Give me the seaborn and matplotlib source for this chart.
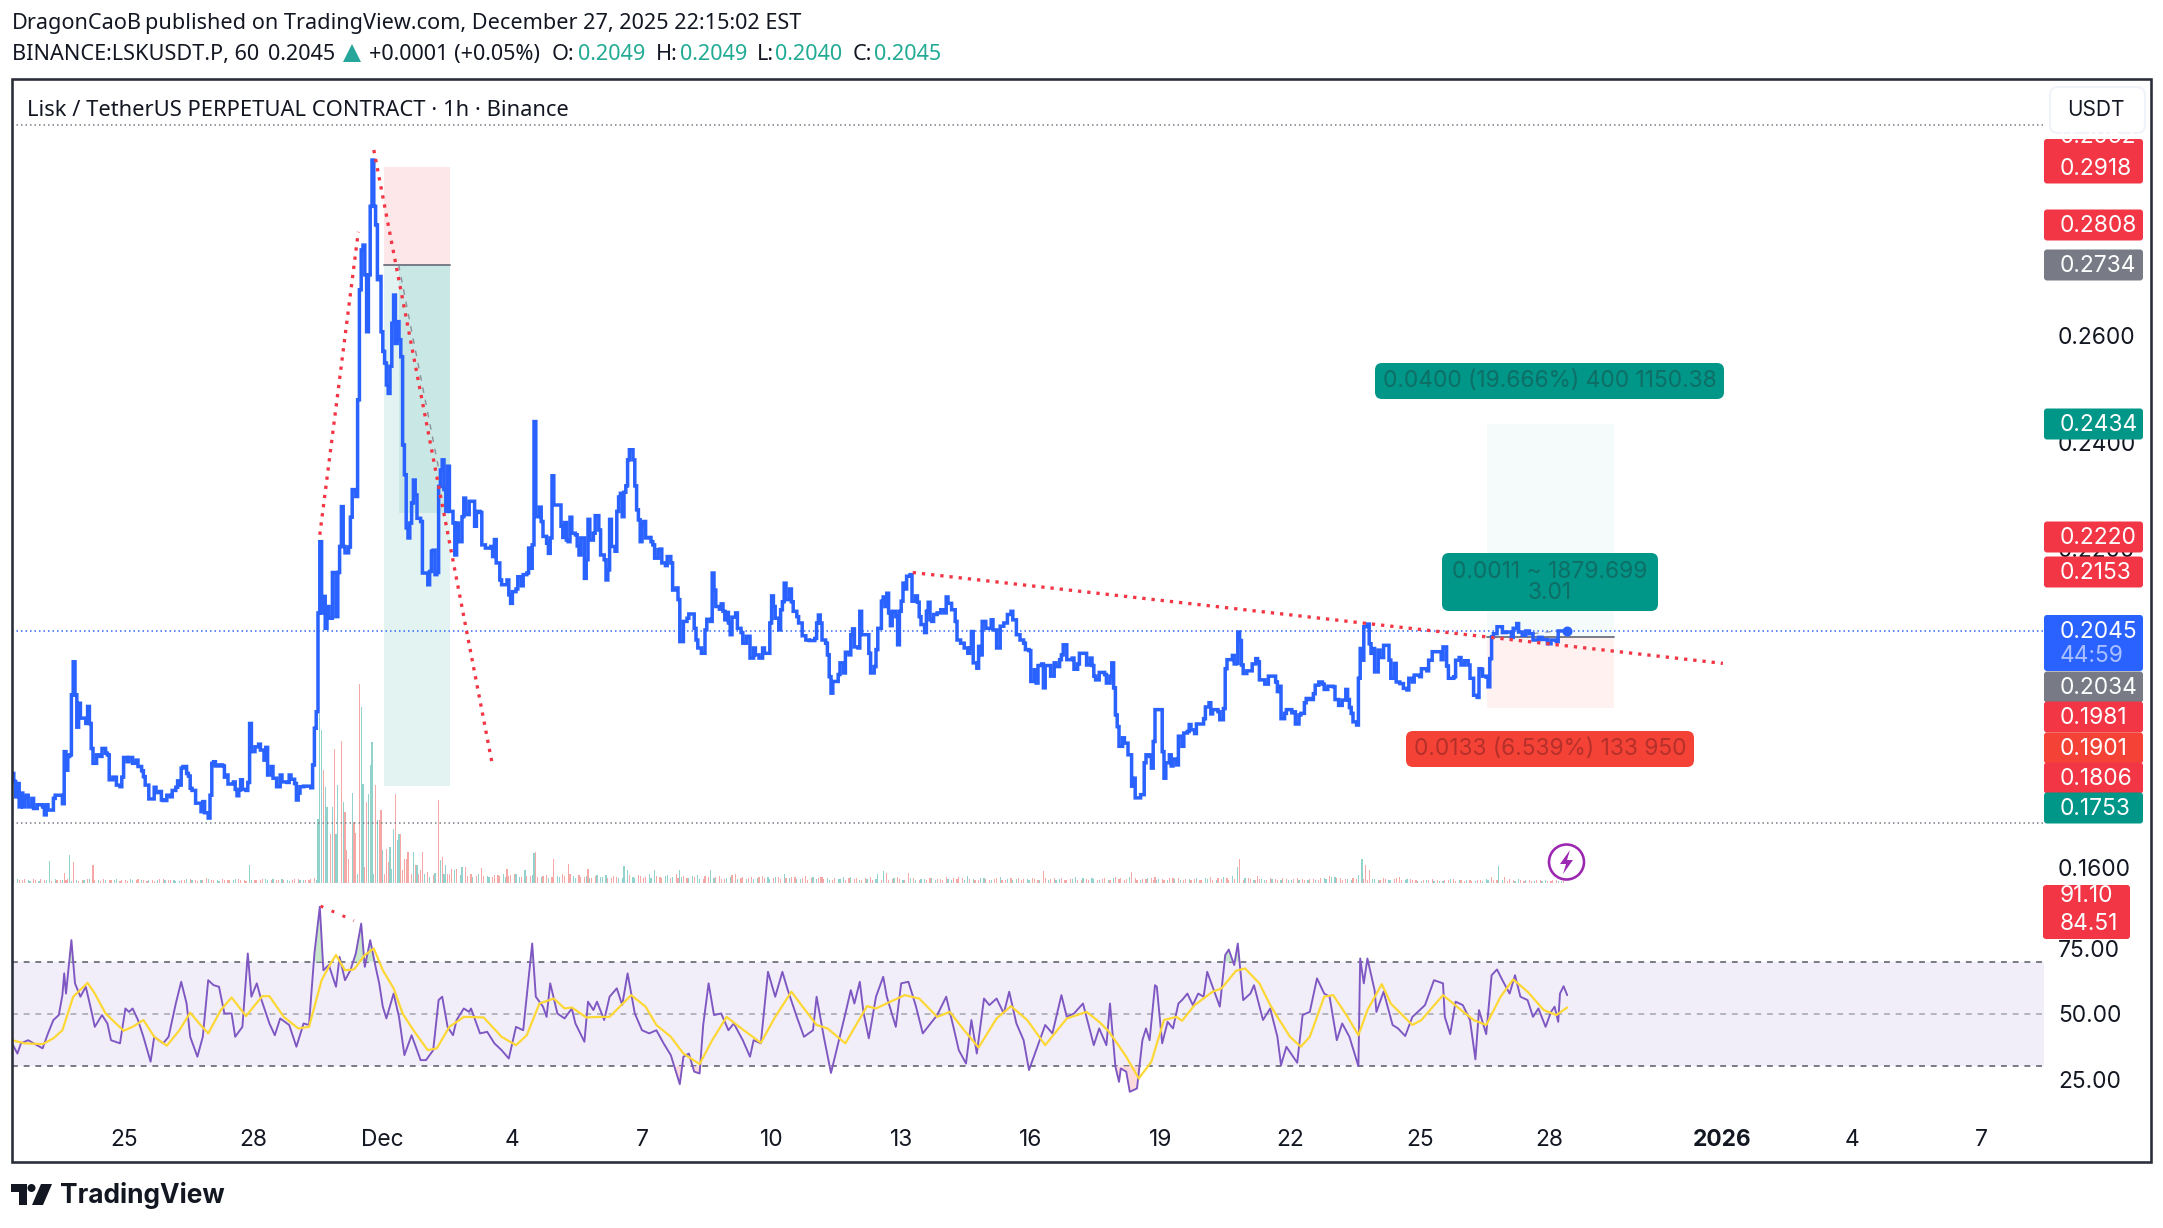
import matplotlib
matplotlib.use("Agg")
import matplotlib.pyplot as plt
from matplotlib.patches import FancyBboxPatch, Rectangle, Polygon, Circle
import numpy as np
import pandas as pd
import seaborn as sns

# ---------- data: hours since the first bar (Nov 22 ~14:00), price in 1/10000 USDT ----------
price_points = [
(0,1777),(1,1762),(2,1733),(3,1758),(4,1714),(5,1740),(6,1714),(7,1733),(8,1736),(9,1714),(11,1730),(12,1711),(14,1718),(17,1714),(18,1699),(19,1718),(20,1708),(22,1708),(23,1730),(24,1736),(27,1736),(28,1720),(29,1818),(30,1783),(31,1809),(32,1812),(33,1925),(34,1987),(35,1925),(36,1864),(37,1909),(38,1881),(41,1871),(42,1903),(43,1871),(44,1824),(45,1796),(47,1812),(49,1809),(50,1824),(52,1815),(53,1812),(54,1765),(56,1770),(58,1755),(60,1752),(61,1770),(62,1807),(64,1799),(65,1807),(67,1796),(69,1802),(70,1790),(72,1782),(73,1771),(74,1755),(76,1729),(78,1729),(79,1751),(80,1741),(82,1743),(83,1727),(84,1726),(86,1736),(88,1733),(89,1745),(91,1751),(92,1763),(93,1755),(94,1787),(95,1790),(97,1777),(98,1772),(99,1749),(100,1745),(102,1721),(104,1721),(105,1705),(106,1724),(107,1703),(109,1693),(110,1736),(111,1796),(112,1799),(113,1791),(115,1793),(117,1791),(118,1770),(119,1774),(120,1757),(123,1761),(124,1747),(125,1735),(126,1746),(127,1765),(128,1747),(130,1745),(131,1760),(132,1871),(133,1818),(135,1827),(137,1832),(138,1821),(140,1802),(141,1826),(142,1774),(144,1790),(145,1768),(147,1752),(149,1774),(150,1761),(153,1760),(154,1774),(155,1766),(157,1758),(158,1727),(159,1740),(160,1752),(162,1753),(166,1750),(167,1793),(168,1862),(169,1893),(170,2079),
(171,2213),(172,2079),(173,2110),(174,2050),(175,2091),(176,2069),(177,2069),(178,2155),(179,2155),(180,2072),(181,2155),(182,2204),(183,2279),(184,2204),(185,2192),(187,2203),(188,2259),(189,2311),(191,2298),(192,2480),(193,2687),(194,2762),(195,2771),(196,2715),(197,2608),(198,2715),(199,2844),(200,2931),(201,2844),(202,2809),(203,2706),(204,2712),(205,2608),(206,2571),(207,2549),(208,2508),(209,2492),(210,2543),(211,2624),(212,2677),(213,2586),(214,2627),(215,2593),(216,2561),(217,2395),(218,2339),(219,2239),(220,2220),(221,2248),(222,2286),(223,2329),(224,2301),(225,2257),(227,2251),(228,2154),(230,2154),(231,2132),(232,2157),(233,2195),(234,2197),(235,2151),(236,2155),(237,2317),(238,2348),(239,2367),(240,2311),(241,2270),(242,2355),(243,2270),(244,2270),(245,2248),(246,2188),(247,2248),(248,2213),(250,2260),(251,2295),(252,2264),(254,2289),(256,2289),(257,2242),(258,2270),(260,2268),(261,2207),(263,2201),(266,2204),(267,2185),(268,2217),(269,2173),
(271,2141),(272,2132),(275,2141),(276,2113),(277,2097),(278,2119),(280,2124),(281,2147),(283,2130),(284,2151),(286,2154),(287,2201),(288,2163),(289,2207),(290,2439),(291,2260),(293,2278),(294,2251),(295,2223),(297,2210),(298,2191),(299,2220),(300,2337),(301,2282),(304,2282),(305,2242),(306,2221),(307,2249),(308,2216),(309,2213),(310,2259),(311,2229),(313,2226),(314,2205),(315,2188),(316,2220),(317,2220),(318,2144),(319,2179),(320,2255),(321,2216),(323,2229),(324,2262),(326,2235),(327,2188),(329,2179),(330,2141),(331,2160),(332,2255),(333,2204),(335,2195),(336,2270),(337,2297),(338,2304),(339,2260),(340,2306),(341,2318),(342,2367),(343,2386),(345,2367),(346,2318),(347,2273),(348,2254),(349,2213),(350,2245),(351,2251),(352,2220),(354,2221),(355,2213),(356,2207),(357,2182),(359,2198),(360,2199),(361,2173),(363,2168),(364,2185),(365,2185),(366,2173),(367,2122),(369,2126),(370,2104),(371,2025),(373,2063),(375,2069),(376,2077),(378,2077),(379,2050),(380,2028),(381,2013),(383,2003),(384,2003),(385,2047),(386,2067),(388,2063),(389,2154),(390,2122),(391,2091),(393,2086),(394,2096),(395,2082),(396,2066),(397,2080),(398,2060),(399,2038),(400,2071),(402,2079),(403,2050),(405,2042),(406,2022),(408,2035),(410,1994),(412,2013),(413,2000),(415,1994),(417,2013),(418,2003),(420,2003),(421,2060),(422,2111),(423,2091),(424,2069),(426,2047),(427,2085),(428,2100),(429,2135),(430,2104),(432,2124),(433,2100),(434,2082),(436,2072),(437,2060),(439,2036),(441,2028),(443,2027),(446,2031),(447,2060),(448,2075),
(449,2060),(450,2028),(452,2022),(453,2000),(454,1959),(455,1928),(456,1950),(459,1963),(460,1985),(462,1966),(463,2005),(465,2000),(466,2038),(467,2049),(468,2015),(470,2013),(471,2082),(472,2038),(475,2038),(476,2003),(477,1966),(479,1978),(480,2010),(481,2050),(482,2050),(483,2101),(484,2109),(485,2091),(486,2116),(487,2079),(488,2055),(489,2082),(491,2072),(492,2019),(493,2082),(494,2101),(495,2135),(496,2124),(497,2148),(499,2151),(500,2101),(502,2111),(503,2099),(504,2072),(505,2057),(507,2042),(508,2082),(509,2099),(510,2066),(511,2063),(512,2076),(514,2079),(516,2085),(518,2079),(519,2109),(520,2097),(522,2085),(524,2063),(525,2028),(527,2022),(529,2013),(531,2003),(532,2013),(533,2044),(534,1985),(536,1975),(537,2016),(538,2000),(539,2063),(541,2050),(543,2050),(544,2066),(545,2047),(547,2013),(549,2054),(551,2060),(553,2076),(555,2082),(556,2066),(557,2066),(558,2038),(560,2028),(562,2022),(563,2010),(565,2008),(566,1950),(568,1972),(569,1947),(570,1980),(572,1983),(573,1938),(574,1980),(576,1980),(577,1960),(579,1985),(580,1978),(582,1991),(583,2000),(584,2019),(586,1991),(589,1994),(590,1973),(592,1983),(593,2003),(596,2003),(597,1981),(599,1994),(600,1980),(601,1960),(602,1953),(604,1967),(607,1963),(608,1947),(610,1960),(611,1985),(612,1938),(613,1887),(614,1865),(615,1828),(617,1844),(618,1834),(620,1812),(622,1753),(623,1768),(624,1731),(627,1737),(629,1797),(630,1812),(632,1809),(633,1787),(634,1837),(635,1897),(638,1897),(639,1818),(640,1768),(641,1797),(643,1812),(644,1791),(645,1804),(647,1793),(648,1847),(650,1828),(651,1853),(653,1856),(654,1869),(655,1859),(657,1852),(658,1870),(661,1870),(662,1880),(663,1902),(665,1910),(666,1889),(667,1897),(670,1893),(671,1878),(673,1899),(674,1974),(675,1991),(678,1999),(679,1983),(680,1984),(681,2043),(682,2027),(683,1981),(684,1965),(686,1970),(689,1983),(691,1993),(692,1987),(693,1953),(696,1945),(698,1960),(700,1960),(702,1949),(703,1931),(704,1941),(705,1880),(707,1890),(708,1897),(711,1891),(712,1893),(713,1870),(715,1887),(716,1890),(718,1910),(719,1918),(721,1916),(723,1927),(724,1943),(726,1949),(728,1945),(729,1935),(731,1941),(734,1940),(735,1916),(737,1905),(739,1915),(741,1935),(742,1916),(743,1901),(744,1890),(745,1874),(747,1868),(748,1956),(749,2012),(750,1990),(751,2053),(753,2058),(754,2021),(755,2003),(756,2012),(757,1968),(759,2009),(760,1995),(762,2018),(764,2018),(765,1990),(766,1956),(768,1984),(769,1949),(771,1946),(773,1937),(775,1934),(776,1956),(778,1949),(779,1962),(782,1959),(783,1974),(786,1970),(787,1990),(789,2006),(793,2006),(794,1991),(795,2015),(797,1979),(798,1956),(801,1959),(802,1990),(804,1995),(805,1981),(807,1989),(809,1981),(810,1956),(811,1956),(812,1924),(814,1920),(815,1974),(816,1973),(817,1960),(819,1958),(820,1940),(821,1993),(822,2034),(823,2040),(825,2053),(828,2042),(830,2043),(833,2033),(834,2050),(836,2059),(837,2043),(839,2037),(841,2045),(843,2040),(845,2028),(848,2033),(850,2029),(853,2021),(855,2028),(858,2025),(859,2045),(864,2045)]

rsi_points = [
(0,38.8),(3,34.9),(5,38.8),(9,40),(12,38.8),(17,36.9),(20,42.6),(23,47.7),(26,49.6),(28,57.2),(29,65.5),(30,57.8),(33,78.2),(35,61.7),(38,56.6),(41,60.4),(44,51.5),(46,45.1),(50,49.6),(53,46.4),(55,40),(60,38.8),(63,52.1),(65,50.8),(67,52.1),(70,47.7),(73,41.3),(77,31.8),(79,41.3),(84,38.8),(87,41.3),(91,54),(94,62.3),(97,54),(99,41.3),(103,33.7),(106,41.3),(109,62.9),(112,61),(115,60.4),(118,50.2),(122,50.2),(124,41.3),(128,45.1),(131,73.1),(133,56.6),(136,61.7),(138,56.6),(143,46.4),(146,41.9),(149,48.3),(154,45.8),(158,37.5),(162,46.4),(165,45.8),(168,73.1),(171,90.9),(173,66.7),(176,68.7),(180,60.4),(182,71.8),(185,62.9),(188,66.7),(191,73.1),(194,84.5),(196,68),(199,78.2),(202,68),(204,61.7),(206,52.8),(208,48.3),(212,57.8),(215,48.9),(218,34.3),(222,41.9),(227,32.4),(230,32.4),(234,36.2),(237,55.3),(239,56.6),(242,45.1),(245,41.9),(247,47.7),(251,52.1),(254,50.8),(255,52.1),(260,42.6),(264,43.2),(268,38.8),(272,36.2),(276,33),(280,45.1),(284,43.8),(286,57.2),(289,76.9),(291,56.6),(295,52.8),(297,48.9),(299,61.7),(303,50.2),(307,48.3),(311,52.1),(313,46.4),(318,39.4),(320,54.7),(323,51.5),(325,54.7),(329,47.7),(332,56.6),(336,59.8),(339,53.4),(342,65.5),(346,50.2),(350,43.8),(354,42.6),(358,43.8),(362,38.8),(366,34.3),(371,23.2),(373,33.7),(376,34.9),(379,28),(382,27.3),(384,45.8),(387,61.7),(390,49.6),(394,50.2),(398,43.8),(401,46.4),(406,40),(410,33.7),(412,40),(416,38.8),(420,66.1),(424,56.6),(428,66.1),(431,59.1),(436,48.9),(440,41.3),(445,43.8),(447,56.6),(451,41.3),(455,27.5),(459,38.8),(463,50.2),(466,59.1),(468,54),(471,62.3),(473,50.8),(476,40.7),(480,56.6),(484,64.2),(486,56.6),(491,45.1),(494,61.7),(498,62.3),(502,53.4),(506,42.6),(511,47),(514,49.6),(519,56.6),(523,45.1),(526,36.2),(530,31.1),(533,47.7),(536,34.9),(540,55.9),(543,53.4),(547,55.9),(551,50.2),(554,58.5),(558,46.4),(562,40),(565,28.6),(569,36.2),(574,45.8),(578,42.6),(583,57.2),(586,48.9),(590,50.2),(595,54),(601,38.1),(604,44.5),
(608,38.1),(610,54),(613,29.9),(615,24.1),(616,29.2),(619,28),(621,20.3),(625,21.6),(628,40),(630,44.5),(632,40),(635,61),(636,60.4),(639,38.8),(642,47),(645,44.5),(648,54),(650,55.3),(653,57.8),(656,53.4),(659,57.8),(662,56.6),(664,66.1),(667,60.4),(671,52.8),(674,72.5),(676,74.6),(679,68.7),(681,76.9),(684,55.3),(688,57.8),(690,61),(695,47.7),(699,52.1),(703,41.3),(705,30.5),(708,37.5),(714,31.4),(717,49.6),(721,50.8),(725,63.6),(729,57.8),(732,56.6),(736,40),(739,46.4),(743,41.3),(748,30.1),(749,71.2),(751,61.7),(753,71.2),(757,59.1),(758,50.8),(762,58.5),(767,45.8),(770,44.5),(774,41.6),(778,48.9),(781,50.8),(785,53.4),(790,62.9),(795,61.7),(796,48.9),(799,42.3),(802,54.7),(806,53.4),(810,47.7),(813,32.7),(815,51.5),(819,42.3),(822,64.8),(825,67),(828,62.9),(832,57.8),(835,64.8),(838,56.6),(842,55.3),(845,48.9),(848,52.1),(852,45.1),(855,50.8),(857,52.8),(859,47),(860,57.8),(862,60.6),(864,57.2)]

rsi_ma_points = [
(0,40),(7,38.8),(17,38.5),(23,40.7),(28,43.8),(34,56.6),(42,61.9),(46,57.8),(52,50.2),(62,43.6),(67,45.1),(73,47.7),(79,41.3),(86,37.9),(93,43.8),(99,50.5),(104,46.4),(109,42.6),(116,51.5),(122,56.3),(130,49.2),(139,56.8),(143,56.8),(151,48.9),(159,44.5),(165,45.1),(172,62.9),(177,69.3),(180,72.5),(185,66.7),(190,67),(196,72.5),(201,75),(206,66.7),(212,59.8),(217,50.2),(223,43.8),(231,36.2),(236,36.9),(243,45.1),(251,48.9),(262,48.7),(272,41.3),(280,38.1),(286,41.9),(293,54),(301,55.9),(307,52.1),(311,52.5),(319,48.7),(327,48.9),(332,48.9),(344,57.2),(352,52.8),(358,45.8),(366,41.3),(373,34.9),(382,30.9),(389,40),(397,48.9),(404,45.1),(416,39),(424,48.9),(433,58.5),(440,52.1),(447,45.8),(453,44.5),(463,38.8),(475,53),(480,52.1),(488,54.7),(496,57.2),(504,55.9),(514,48.9),(521,50.8),(529,43.8),(537,37.2),(547,48.3),(555,53),(564,47.7),(574,38.1),(586,48.3),(597,50.8),(604,47),
(609,43.6),(614,38.8),(619,33.7),(626,25.4),(633,31.8),(640,47.7),(647,48.9),(650,47.4),(657,53.4),(667,58.5),(672,59.8),(680,66.5),(685,67.4),(693,61.7),(699,53.4),(703,48.9),(710,41.3),(716,37.5),(721,41.3),(729,56.6),(734,57.2),(742,48.9),(748,41.9),(753,51.5),(761,61.4),(766,54),(778,45.8),(783,47.7),(795,57.2),(804,52.1),(812,47.7),(819,45.8),(827,56.6),(834,63.2),(842,58.5),(851,51.5),(858,49.6),(864,52.5)]

# small three-hourly volume bars (arbitrary units), then the visible spikes
volume_base = [
3,4,3,3,4,2,3,3,4,3,3,2,3,3,4,3,3,4,3,3,2,3,4,3,
3,2,3,3,4,3,3,2,3,4,3,3,5,3,3,4,3,3,4,3,2,3,3,4,
3,3,4,3,3,4,3,3,5,4,3,6,8,6,9,9,9,9,9,9,9,9,9,9,
9,9,9,9,9,9,9,9,9,9,7,8,6,9,7,8,7,6,8,9,7,9,6,8,
7,9,6,8,6,7,9,6,7,8,6,5,7,6,8,5,6,5,7,6,8,5,9,5,
6,7,5,9,6,5,7,8,4,6,5,7,4,6,9,5,4,6,5,7,4,5,6,4,
5,6,4,7,5,4,6,5,3,4,6,5,4,3,5,6,4,3,5,4,6,3,4,5,
3,4,5,3,4,6,3,4,5,7,4,3,5,3,4,6,3,5,4,3,4,5,3,4,
3,5,4,3,4,6,3,4,5,3,4,3,5,4,3,6,5,3,4,5,3,4,3,5,
5,3,4,4,3,5,6,3,4,5,7,4,3,5,3,4,3,5,4,3,4,3,5,4,
3,4,3,5,7,6,5,4,3,4,5,3,4,3,5,3,4,6,3,4,3,2,3,4,
3,2,3,4,3,2,3,2,3,4,2,3,3,2,3,4,2,3,2,3,3,2,3,2]
volume_base_side = (
"dudududdudduudddudduddud"
"uddudduudddudduddudduddu"
"dduudduddudduudduududduu"
"uudduuddudduudddudduddud"
"ddudduddudduduuddududdud"
"dudduduuddudduddudududdu"
"ududdududuudduddududdudd"
"dududdudduududduddududdu"
"ududduddudduuddududdudud"
"dduddududduuddududdududd"
"uddududdududuududdudduud"
"dudduddududdudduddududdu")
# the bars one hour after those above
volume_mid = [
3,3,4,2,3,4,3,2,3,3,4,3,2,3,4,3,2,3,3,4,3,2,3,4,
3,3,2,4,3,3,2,3,4,3,2,3,4,3,2,3,3,4,3,2,3,3,4,3,
4,3,3,2,4,3,3,4,3,5,4,5,7,8,12,14,11,16,13,10,15,12,14,11,
13,10,12,9,11,8,10,9,8,7,9,8,7,6,9,7,6,8,7,6,8,9,6,7,
8,6,7,5,8,6,7,9,5,6,7,5,8,6,5,7,5,6,8,5,7,6,5,7,
5,8,6,5,7,5,6,4,7,5,6,4,5,8,4,6,5,4,6,5,4,6,4,5,
6,4,5,3,6,5,4,3,5,4,3,6,5,3,4,3,5,4,3,5,4,3,5,3,
4,3,5,4,3,4,5,6,3,4,3,5,4,3,5,3,4,3,5,4,3,4,3,5,
4,3,5,3,4,3,5,3,4,3,5,3,4,5,4,3,3,4,5,3,4,3,5,4,
3,4,3,5,3,4,3,5,6,3,4,3,5,4,3,4,3,4,3,5,3,4,3,3,
4,3,5,4,6,5,3,4,5,3,4,3,4,3,4,3,5,3,4,3,2,3,3,2,
2,3,4,2,3,3,2,3,2,3,3,2,3,4,2,3,3,2,3,2,2,3,2,3]
volume_mid_side = (
"uddudduddududuuddududdud"
"duddududuuddududdudduddu"
"uddududduuudduddudduudud"
"ddududuuddudduududdududd"
"uddududdududuuddudduddud"
"duuddudududdududdudduudd"
"dudduddudududdududdudduu"
"ududdudduddududduuddudud"
"duddududuuddudduddududdu"
"uddududdudduuddududdudud"
"duduuddududdudduddududdu"
"ududdudduududdududduddud")
volume_spikes = [
(21,22,"u"),(29,10,"d"),(32,28,"u"),(34,21,"d"),(45,18,"d"),(132,18,"u"),
(170,64,"u"),(171,169,"u"),(172,153,"u"),(173,113,"d"),(174,96,"u"),(175,76,"u"),(177,49,"d"),(178,76,"u"),(179,134,"d"),(180,49,"u"),(181,98,"u"),(183,142,"d"),(184,81,"u"),(185,71,"d"),(186,33,"d"),(187,24,"d"),(189,90,"u"),(190,61,"d"),(191,50,"d"),(193,199,"d"),(194,176,"u"),(195,99,"u"),(197,81,"d"),(198,89,"u"),(199,118,"u"),(200,141,"u"),(202,98,"d"),(203,63,"u"),(204,63,"d"),(205,73,"d"),(206,33,"u"),(208,34,"d"),(209,21,"d"),(210,36,"u"),(212,54,"u"),(213,89,"d"),(214,43,"u"),(215,49,"u"),(216,49,"d"),(218,24,"d"),(219,24,"d"),(220,31,"d"),(223,31,"u"),(224,18,"d"),(225,18,"u"),(227,13,"d"),(228,31,"d"),(229,9,"u"),(231,11,"d"),(232,6,"u"),(234,8,"d"),(237,83,"d"),(238,23,"u"),(239,26,"d"),(241,18,"u"),(242,9,"d"),(244,14,"d"),(246,13,"u"),(247,14,"d"),(249,8,"u"),(250,16,"u"),(252,16,"d"),
(261,15,"d"),(275,14,"d"),(285,13,"u"),(290,30,"u"),(291,31,"d"),(301,24,"d"),(309,19,"d"),(320,14,"d"),(340,17,"u"),(342,13,"u"),(357,13,"u"),(371,13,"u"),(388,13,"u"),(420,6,"u"),(429,9,"u"),(449,6,"d"),(481,9,"u"),(484,12,"u"),(486,10,"d"),(498,10,"d"),(573,12,"d"),(613,6,"d"),(622,11,"d"),(635,6,"d"),(681,16,"u"),(682,24,"d"),(692,7,"d"),(748,8,"u"),(750,24,"u"),(752,18,"d"),(754,13,"d"),(822,6,"d"),(826,17,"u"),(829,6,"d")]

time_tick_hours = [62, 134, 206, 278, 350, 422, 494, 566, 638, 710, 782, 854, 950, 1022, 1094]
time_tick_labels = ["25", "28", "Dec", "4", "7", "10", "13", "16", "19", "22", "25", "28", "2026", "4", "7"]
price_ticks = [0.16, 0.18, 0.20, 0.22, 0.24, 0.26, 0.28, 0.30]
rsi_ticks = [25, 50, 75]

# drawings: hours and price in 1/10000, RSI value
trend_up = [(171, 2226), (192.4, 2796)]
trend_down = [(201, 2950), (266.5, 1800)]
trend_long = [(500.4, 2155), (950.5, 1984)]
trend_rsi = [(171.4, 91.2), (190, 85.6)]
short_pos = dict(h0=206.7, h1=243.3, stop=2918, entry=2734, target=1753, reached=2267, reached_h=215)
long_pos = dict(h0=819.4, h1=890, target=2434, entry=2034, stop=1901)
last_price = 2045
high_line, low_line = 2997, 1684

price_labels = [("0.2918",168,"#f23645"),("0.2808",225,"#f23645"),("0.2734",265,"#787b86"),("0.2434",424,"#009688"),
                ("0.2220",537,"#f23645"),("0.2153",572,"#f23645"),("0.2034",687,"#787b86"),("0.1981",717,"#f23645"),
                ("0.1901",748,"#f44336"),("0.1806",778,"#f23645"),("0.1753",808,"#009688")]

# ---------- style ----------
W, H = 2163, 1228
sns.set_theme(style="white")
plt.rcParams["font.family"] = ["Inter", "DejaVu Sans"]
DARK = "#131722"
BLUE = "#2962ff"
RED = "#f23645"
TEAL = "#22ab94"
px = 0.72  # points per pixel at dpi 100
VAL = 16.4  # axis and label text size

fig = plt.figure(figsize=(W / 100, H / 100), dpi=100, facecolor="white")

def rect(x0, y0, x1, y1):
    return [x0 / W, 1 - y1 / H, (x1 - x0) / W, (y1 - y0) / H]

L, R = 12, 2044
TOP, BOT = 80, 883
XMAX = (R - L) / 1.8
# price scale: 1 px = 1.8815 / 10000
PMIN = 2600 - (BOT - 336) * 1.8815
PMAX = 2600 + (336 - TOP) * 1.8815

# ---- volume axes
ax_vol = fig.add_axes(rect(L, TOP, R, BOT), zorder=1)
vol = {3 * i: (v, s) for i, (v, s) in enumerate(zip(volume_base, volume_base_side))}
vol.update({3 * i + 1: (v, s) for i, (v, s) in enumerate(zip(volume_mid, volume_mid_side))})
vol.update({h: (v, s) for h, v, s in volume_spikes})
vol_df = pd.DataFrame([(h, v, s) for h, (v, s) in sorted(vol.items())], columns=["hour", "volume", "side"])
sns.barplot(data=vol_df, x="hour", y="volume", hue="side", palette={"u": "#26a69a", "d": "#ef5350"},
            native_scale=True, width=0.6, dodge=False, errorbar=None, legend=False, saturation=1,
            alpha=0.5, linewidth=0, ax=ax_vol)
ax_vol.set_xlim(0, XMAX)
ax_vol.set_ylim(0, BOT - TOP)
ax_vol.axis("off")

# ---- price axes
ax = fig.add_axes(rect(L, TOP, R, BOT), zorder=2)
ax.patch.set_alpha(0)
ax.set_xlim(0, XMAX)
ax.set_ylim(PMIN / 1e4, PMAX / 1e4)

def span(axis, h0, h1, p0, p1, color, z=1):
    axis.fill_between([h0, h1], [p0 / 1e4] * 2, [p1 / 1e4] * 2, color=color, lw=0, zorder=z)

s = short_pos
span(ax, s["h0"], s["h1"], s["entry"], s["stop"], "#fde7e9")
span(ax, s["h0"], s["h1"], s["target"], s["entry"], "#e2f3f1")
span(ax, s["reached_h"], s["h1"], s["reached"], s["entry"], "#c9e8e5")
ax.plot([s["h0"], s["h1"]], [s["entry"] / 1e4] * 2, color="#787b86", lw=1.5 * px * 1.3, zorder=2)
l_ = long_pos
span(ax, l_["h0"], l_["h1"], l_["entry"], l_["target"], "#f4fbfa")
span(ax, l_["h0"], l_["h1"], l_["stop"], l_["entry"], "#fff1f0")
ax.plot([l_["h0"], l_["h1"]], [l_["entry"] / 1e4] * 2, color="#787b86", lw=1.5 * px * 1.3, zorder=2)
ax.plot([214.8, 239.4], [0.2734, 0.2310], color="#787b86", lw=1.0, ls=(0, (4, 5)), alpha=0.8, zorder=2)
ax.plot([845, 858], [0.2040, 0.2045], color="#787b86", lw=1.0, ls=(0, (4, 5)), alpha=0.7, zorder=2)

for yv, c in [(high_line, "#787b86"), (low_line, "#787b86"), (last_price, BLUE)]:
    ax.plot([0, XMAX], [yv / 1e4] * 2, color=c, lw=1.5 * px, ls=(0, (1, 2)), zorder=2)

ph, pv = zip(*price_points)
price_df = pd.DataFrame({"hour": ph, "price": np.array(pv) / 1e4})
sns.lineplot(data=price_df, x="hour", y="price", drawstyle="steps-post", estimator=None, sort=False,
             color=BLUE, lw=3.5 * px, ax=ax, zorder=4, solid_joinstyle="miter")
ax.plot([ph[-1]], [pv[-1] / 1e4], "o", color=BLUE, ms=10 * px, mew=0, zorder=5)

for tr in (trend_up, trend_down, trend_long):
    xs, ys = zip(*tr)
    ax.plot(xs, np.array(ys) / 1e4, color=RED, lw=3.3 * px, ls=(0, (1, 1.8)), zorder=6)

ax.yaxis.tick_right()
ax.set_yticks(price_ticks, [f"{t:.4f}" for t in price_ticks], fontsize=VAL, color=DARK)
ax.tick_params(axis="y", length=0, pad=14 * px)
ax.set_xticks([])
ax.set_xlabel("")
ax.set_ylabel("")
for sp in ax.spines.values():
    sp.set_visible(False)

# ---- RSI axes
RT, RB = 885, 1125
ax_r = fig.add_axes(rect(L, RT, R, RB), zorder=2)
ax_r.patch.set_alpha(0)
ax_r.set_xlim(0, XMAX)
ax_r.set_ylim(50 - (RB - 1014) / 2.62, 50 + (1014 - RT) / 2.62)
ax_r.axhspan(30, 70, color="#f1edf9", lw=0, zorder=0)
ax_r.axhline(70, color="#787b86", lw=1.5 * px * 1.3, ls=(0, (3, 3)), zorder=1)
ax_r.axhline(30, color="#787b86", lw=1.5 * px * 1.3, ls=(0, (3, 3)), zorder=1)
ax_r.axhline(50, color="#b2b5be", lw=1.5 * px * 1.3, ls=(0, (3, 3)), zorder=1)
rh, rv = zip(*rsi_points)
mh, mv = zip(*rsi_ma_points)
rh_a, rv_a = np.array(rh, float), np.array(rv, float)
ax_r.fill_between(rh_a, rv_a, 70, where=rv_a > 70, interpolate=True, color="#c8e6c9", lw=0, zorder=1)
ax_r.fill_between(rh_a, rv_a, 30, where=rv_a < 30, interpolate=True, color="#fbd9dc", lw=0, zorder=1)
sns.lineplot(x=list(rh), y=list(rv), estimator=None, sort=False, color="#7e57c2", lw=1.9 * px, ax=ax_r, zorder=3)
sns.lineplot(x=list(mh), y=list(mv), estimator=None, sort=False, color="#fdd835", lw=2.2 * px, ax=ax_r, zorder=4)
xs, ys = zip(*trend_rsi)
ax_r.plot(xs, ys, color=RED, lw=3 * px, ls=(0, (1, 3)), zorder=5)
ax_r.yaxis.tick_right()
ax_r.set_yticks(rsi_ticks, [f"{t:.2f}" for t in rsi_ticks], fontsize=VAL, color=DARK)
ax_r.set_xticks(time_tick_hours, time_tick_labels, fontsize=VAL, color=DARK)
ax_r.tick_params(axis="both", length=0)
ax_r.tick_params(axis="y", pad=14 * px)
ax_r.tick_params(axis="x", pad=3)
for t in ax_r.get_xticklabels():
    if t.get_text() == "2026":
        t.set_fontweight("bold")
ax_r.set_xlabel("")
ax_r.set_ylabel("")
for sp in ax_r.spines.values():
    sp.set_visible(False)

# ---- overlay in pixel coordinates for chrome
ov = fig.add_axes([0, 0, 1, 1], zorder=10)
ov.set_xlim(0, W)
ov.set_ylim(H, 0)
ov.axis("off")
ov.patch.set_alpha(0)

def box(x0, y0, x1, y1, fc, r=3, ec="none", lw=0, z=2):
    p = FancyBboxPatch((x0, y0), x1 - x0, y1 - y0, boxstyle=f"round,pad=0,rounding_size={r}",
                       fc=fc, ec=ec, lw=lw, zorder=z)
    ov.add_patch(p)
    return p

def txt(x, y, s, size=VAL, color=DARK, ha="left", weight="normal", family=None, z=5, alpha=None):
    return ov.text(x, y + 1.5, s, fontsize=size, color=color, ha=ha, va="center", fontweight=weight,
                   family=family or ["Inter", "DejaVu Sans"], zorder=z, alpha=alpha)

# frame
ov.add_patch(Rectangle((12, 79), 2138.5, 1082.5, fc="none", ec="#2a2e39", lw=2.6 * px, zorder=8))

# header
HF = ["Noto Sans", "DejaVu Sans"]
HS = 15.6
txt(11.5, 22, "DragonCaoB", HS, DARK, weight="bold", family=HF)
txt(145, 22, "published on TradingView.com, December 27, 2025 22:15:02 EST", HS, DARK, family=HF)
txt(11.5, 53, "BINANCE:LSKUSDT.P, 60", HS, DARK, weight="bold", family=HF)
txt(268, 53, "0.2045", HS, DARK, family=HF)
ov.add_patch(Polygon([(343, 62), (361, 62), (352, 44)], fc="#26a69a", lw=0))
txt(369, 53, "+0.0001 (+0.05%)", HS, DARK, family=HF)
for x_l, lab, x_v, val in [(552, "O:", 578, "0.2049"), (656, "H:", 680, "0.2049"), (757, "L:", 775, "0.2040"), (853, "C:", 874, "0.2045")]:
    txt(x_l, 53, lab, HS, DARK, weight="bold", family=HF)
    txt(x_v, 53, val, HS, TEAL, family=HF)
txt(27, 109, "Lisk / TetherUS PERPETUAL CONTRACT · 1h · Binance", 15.8, DARK, weight=500, family=HF)

# USDT button
box(2050, 87, 2145, 133, "white", r=8, ec="#f0f3fa", lw=1.5)
txt(2096, 108.5, "USDT", 15, DARK, ha="center")

# price labels
BX0, BX1, BH = 2044, 2143, 15.5
clip = box(BX0, 139, BX1, 168, RED)
t_cut = txt(2060, 135.5, "0.2952", VAL, "white")
t_cut.set_clip_path(clip)
for s_, cy, c in price_labels:
    box(BX0, cy - BH, BX1, cy + BH, c)
    txt(2060, cy - 0.5, s_, VAL, "white")
box(BX0, 615, BX1, 671, BLUE)
txt(2060, 630, "0.2045", VAL, "white")
txt(2060, 655, "44:59", VAL, "white", alpha=0.6)
# RSI labels
box(2043, 885, 2130, 939, RED)
txt(2060, 894, "91.10", VAL, "white")
txt(2060, 923, "84.51", VAL, "white")

# pills
box(1375, 363, 1724, 399, "#009688", r=7)
txt(1549.5, 379.5, "0.0400 (19.666%) 400 1150.38", VAL, "#0f6e66", ha="center")
box(1442, 553, 1658, 611, "#009688", r=7)
txt(1550, 570.5, "0.0011 ~ 1879.699", VAL, "#0f6e66", ha="center")
txt(1550, 591.5, "3.01", VAL, "#0f6e66", ha="center")
box(1406, 731, 1694, 767, "#f44336", r=7)
txt(1550, 747.5, "0.0133 (6.539%) 133 950", VAL, "#b5302a", ha="center")

# bolt icon
ov.add_patch(Circle((1566.5, 862), 17.5, fc="white", ec="#9c27b0", lw=2.6 * px, zorder=3))
ov.add_patch(Polygon([(1570, 850), (1560, 864), (1566, 864), (1563, 874), (1573, 860), (1567, 860)], fc="#9c27b0", lw=0, zorder=4))

# logo
LOGO = "#131722"
ov.add_patch(Polygon([(11, 1184), (27, 1184), (27, 1205), (19, 1205), (19, 1192), (11, 1192)], fc=LOGO, lw=0))
ov.add_patch(Circle((31.5, 1188), 4, fc=LOGO, lw=0))
ov.add_patch(Polygon([(41, 1184), (52, 1184), (43, 1205), (32, 1205)], fc=LOGO, lw=0))
txt(60, 1194, "TradingView", 18.9, LOGO, weight="bold")

fig.savefig("out.png", dpi=100, facecolor="white")
